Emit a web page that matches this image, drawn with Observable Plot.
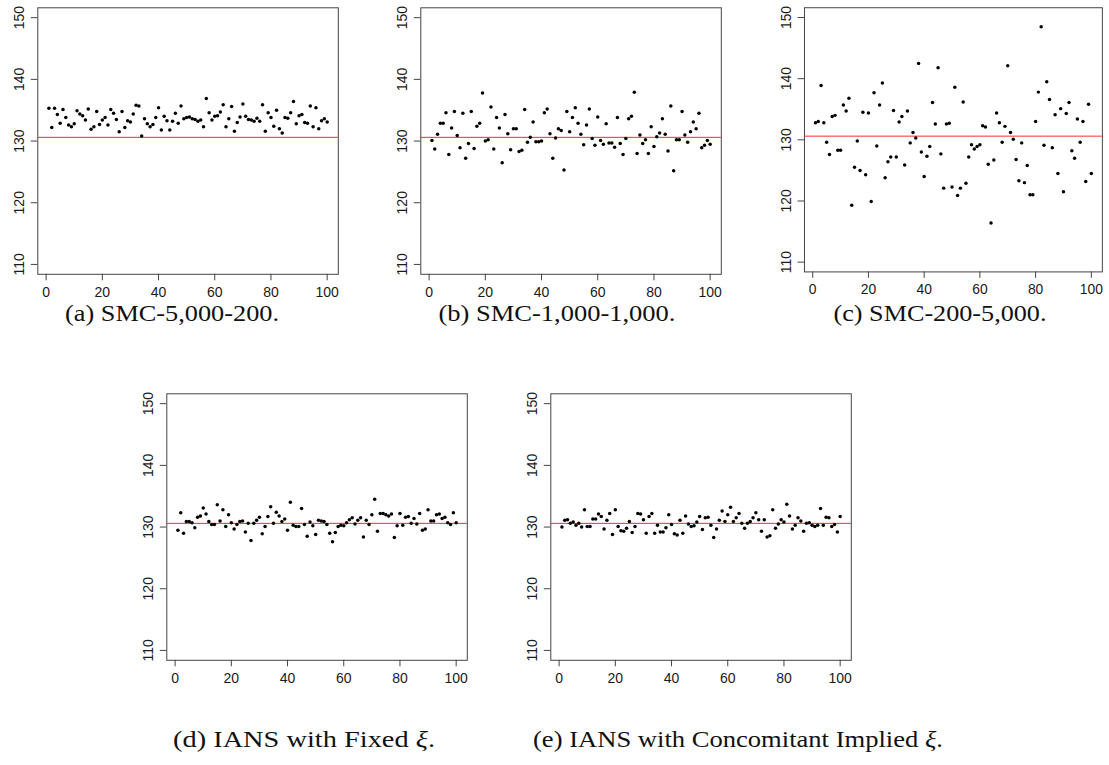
<!DOCTYPE html>
<html><head><meta charset="utf-8">
<script src="https://cdn.jsdelivr.net/npm/d3@7"></script>
<script src="https://cdn.jsdelivr.net/npm/@observablehq/plot@0.6"></script>
<style>
body{margin:0;background:#fff;}
#root{position:relative;width:1109px;height:765px;overflow:hidden;background:#fff;}
.panel{position:absolute;}
#caps{position:absolute;left:0;top:0;}
#caps text{font-family:"Liberation Serif","Times New Roman",serif;}
</style></head><body><div id="root"></div>
<script>
// 100 replicate estimates per method
const smc5000_200 = [
 135.3,132.2,135.3,134.3,132.9,135.1,133.8,132.6,132.3,132.8,
 134.9,134.4,134.1,133.4,135.2,131.9,132.3,134.8,132.7,133.4,
 133.8,132.6,135.1,134.5,133.5,131.5,134.8,132.2,133.3,133.1,
 134.4,135.8,135.7,130.8,133.6,132.8,132.3,132.7,133.8,135.4,
 131.8,134.0,133.3,131.8,133.2,134.5,132.9,135.7,133.6,133.8,
 133.9,133.6,133.5,133.2,133.4,132.3,136.9,134.6,133.4,134.0,
 134.1,134.7,135.9,132.3,133.6,135.6,131.6,133.0,133.9,136.0,
 134.0,133.5,133.4,133.2,133.7,133.2,135.9,131.6,134.6,133.8,
 132.4,135.0,132.0,131.3,133.8,133.7,134.6,136.4,132.8,134.1,
 134.3,133.0,132.9,135.7,132.3,135.4,132.0,133.3,133.6,133.1];
const smc1000_1000 = [
 130.1,128.7,131.1,132.9,132.9,134.6,127.8,132.1,134.8,130.9,
 128.9,134.5,127.2,129.6,134.8,128.8,132.4,132.9,137.8,130.0,
 130.2,135.5,128.7,133.8,132.1,126.5,134.3,131.2,128.6,132.0,
 132.0,128.3,128.5,135.1,129.8,130.6,133.1,129.9,129.9,130.0,
 134.6,135.2,131.2,127.2,130.5,132.0,131.7,125.3,134.8,131.5,
 133.8,135.4,132.9,131.1,129.4,132.6,135.2,130.4,129.3,133.9,
 130.1,129.5,132.8,129.7,129.7,129.0,133.8,129.6,127.8,130.4,
 133.6,134.0,137.9,128.0,131.0,129.6,130.2,128.0,132.3,129.1,
 130.7,131.3,133.6,131.1,128.4,135.7,125.2,130.2,130.2,134.8,
 131.0,129.8,131.5,133.1,132.0,134.5,128.9,129.3,130.1,129.5];
const smc200_5000 = [
 132.8,133.0,138.9,132.8,129.6,127.6,133.8,134.0,128.3,128.3,
 135.7,134.7,136.8,119.3,125.5,129.8,125.0,134.5,124.3,134.4,
 119.9,137.7,129.0,135.7,139.3,123.8,126.4,127.2,134.8,127.2,
 132.9,133.8,125.9,134.7,129.5,131.2,130.3,142.5,128.0,124.0,
 127.3,128.9,136.1,132.6,141.8,127.7,122.1,132.6,132.7,122.3,
 138.6,120.9,122.1,136.2,122.9,127.2,129.2,128.5,128.9,129.2,
 132.3,132.1,126.0,116.4,126.7,134.4,132.8,129.6,132.2,142.1,
 131.2,130.1,126.8,123.3,129.5,123.0,125.8,121.0,121.0,133.0,
 137.8,148.5,129.1,139.5,136.6,128.7,134.1,124.5,135.1,121.5,
 134.3,136.1,128.2,127.0,133.4,129.6,133.0,123.2,135.8,124.5];
const iansFixed = [
 129.5,132.3,129.0,130.9,130.9,130.7,129.9,131.6,131.8,133.1,
 132.1,130.9,130.4,130.4,133.6,131.0,132.8,130.1,132.0,130.7,
 129.7,130.4,130.9,131.0,129.2,130.6,127.8,130.6,131.1,131.6,
 128.9,130.1,131.7,133.3,130.6,132.4,131.8,130.9,131.3,129.5,
 134.0,130.3,130.1,130.1,133.0,130.4,128.5,130.8,130.2,128.8,
 131.1,131.0,130.9,130.4,129.0,127.6,129.1,130.1,130.3,130.2,
 130.7,131.2,131.5,130.5,131.1,131.5,128.4,131.1,130.4,132.0,
 134.5,129.3,132.2,132.2,132.0,131.8,132.1,128.3,130.2,132.2,
 130.3,131.6,131.7,130.6,131.4,130.5,132.2,129.5,129.7,132.8,
 131.0,131.0,132.0,132.1,131.4,131.6,130.7,130.4,132.3,130.7];
const iansImplied = [
 130.0,131.1,131.2,130.6,130.8,130.3,130.6,130.0,132.8,130.1,
 130.1,131.3,131.3,132.1,131.7,129.7,131.1,132.2,128.8,132.8,
 130.1,129.4,129.3,129.8,130.9,129.1,130.1,132.2,132.1,131.2,
 129.0,131.7,132.2,129.0,130.3,129.2,129.2,129.9,132.0,130.4,
 128.9,128.7,131.1,129.0,131.8,130.5,130.1,130.2,130.8,131.7,
 129.6,131.5,131.6,130.3,128.3,129.7,131.1,132.6,130.9,132.0,
 133.2,130.9,131.5,132.2,130.6,129.8,130.6,130.9,131.5,132.3,
 131.2,129.3,131.2,128.4,128.6,132.8,129.8,130.5,131.2,130.8,
 133.7,131.8,129.7,130.3,131.5,131.0,129.3,130.6,130.7,130.3,
 130.1,130.3,133.0,130.3,131.6,131.5,130.1,130.4,129.2,131.7];

const trueValue = 130.6;
const xTicks = [0, 20, 40, 60, 80, 100];
const yTicks = [110, 120, 130, 140, 150];
const captionLabels = ["(a) SMC-5,000-200.", "(b) SMC-1,000-1,000.", "(c) SMC-200-5,000.", "(d) IANS with Fixed ", "(e) IANS with Concomitant Implied "];
const seriesList = [smc5000_200, smc1000_1000, smc200_5000, iansFixed, iansImplied];

// layout
const FW = 300.5, FH = 266.5, ML = 37.3, MT = 7.3, SW = 345, SH = 305;
const frames = [[37.3, 7.3], [420.7, 7.3], [804.3, 7.3], [166, 393], [550, 393]];
const capPos = [[172, 321, 214], [557, 321, 237], [940, 321, 213], [304, 747, 262], [738, 747, 410]];

const root = document.getElementById("root");

function panel(values) {
  const data = values.map((v, i) => ({run: i + 1, value: v}));
  return Plot.plot({
    width: SW, height: SH,
    marginLeft: ML, marginTop: MT, marginRight: SW - ML - FW, marginBottom: SH - MT - FH,
    x: {domain: [-2.96, 103.96], label: null},
    y: {domain: [108.4, 151.6], label: null},
    style: "font-family: 'Liberation Sans', Arial, sans-serif; font-size: 14px; color: #1a1a1a; background: transparent; overflow: visible;",
    marks: [
      Plot.frame({stroke: "#444", strokeWidth: 1}),
      Plot.ruleY([trueValue], {stroke: "#ff2a2a", strokeWidth: 1}),
      Plot.dot(data, {x: "run", y: "value", r: 1.75, fill: "#000", stroke: "none"}),
      Plot.axisX({ticks: xTicks, tickSize: 6.5, tickPadding: 6, stroke: "#444", fontSize: 14, label: null}),
      Plot.axisY({ticks: yTicks, tickSize: 6.5, tickPadding: 7, tickRotate: -90, stroke: "#444", fontSize: 14, label: null})
    ]
  });
}

seriesList.forEach((vals, k) => {
  const el = panel(vals);
  const wrap = document.createElement("div");
  wrap.className = "panel";
  wrap.style.left = (frames[k][0] - ML) + "px";
  wrap.style.top = (frames[k][1] - MT) + "px";
  wrap.appendChild(el);
  root.appendChild(wrap);
});

// captions
const caps = d3.select(root).append("svg").attr("id", "caps")
  .attr("width", 1109).attr("height", 765);
captionLabels.forEach((lab, k) => {
  const [cx, by, w] = capPos[k];
  const t = caps.append("text")
    .attr("x", cx - w / 2).attr("y", by)
    .attr("font-size", 23.5).attr("fill", "#111")
    .attr("textLength", w).attr("lengthAdjust", "spacingAndGlyphs");
  t.append("tspan").text(lab);
  if (k >= 3) {
    t.append("tspan").attr("font-style", "italic").text("ξ");
    t.append("tspan").text(".");
  }
});
</script></body></html>
